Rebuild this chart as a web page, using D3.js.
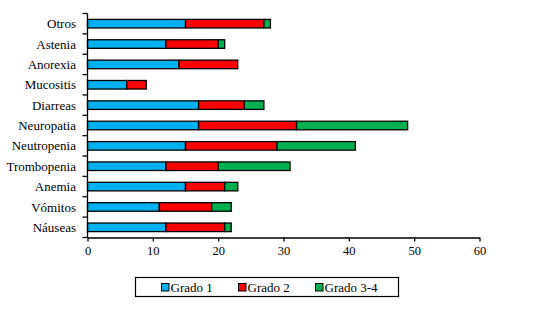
<!DOCTYPE html>
<html>
<head>
<meta charset="utf-8">
<script src="https://cdn.jsdelivr.net/npm/d3@7"></script>
<style>
  body { margin: 0; background: #fff; }
  svg text { font-family: "Liberation Serif", "Times New Roman", Times, serif; fill: #000; }
</style>
</head>
<body>
<div id="chart"></div>
<script>
// set the dimensions of the picture
const width = 554,
    height = 322;

// categories, top to bottom as drawn
const categories = ["Otros", "Astenia", "Anorexia", "Mucositis", "Diarreas", "Neuropatia",
  "Neutropenia", "Trombopenia", "Anemia", "Vómitos", "Náuseas"];
const grado1 = [15, 12, 14, 6, 17, 17, 15, 12, 15, 11, 12];
const grado2 = [12, 8, 9, 3, 7, 15, 14, 8, 6, 8, 9];
const grado34 = [1, 1, 0, 0, 3, 17, 12, 11, 2, 3, 1];
const seriesNames = ["Grado 1", "Grado 2", "Grado 3-4"];
const xTicks = [0, 10, 20, 30, 40, 50, 60];

const colors = ["#00b0f0", "#ff0000", "#00b050"];
const serif = '"Liberation Serif", "Times New Roman", Times, serif';

const plotLeft = 87.5, plotRight = 479.5, plotTop = 13.5, plotBottom = 237.5;

const svg = d3.select("#chart")
  .append("svg")
    .attr("width", width)
    .attr("height", height);

const x = d3.scaleLinear().domain([0, 60]).range([plotLeft, plotRight]);
const y = d3.scaleBand().domain(categories).range([plotTop, plotBottom]).paddingInner(0.58).paddingOuter(0.29);

// table for the stack
const table = categories.map((c, i) => ({cat: c, "Grado 1": grado1[i], "Grado 2": grado2[i], "Grado 3-4": grado34[i]}));
const stacked = d3.stack().keys(seriesNames)(table);

svg.append("g")
  .selectAll("g")
  .data(stacked)
  .join("g")
    .attr("fill", (d, i) => colors[i])
  .selectAll("rect")
  .data(d => d.filter(p => p[1] > p[0]))
  .join("rect")
    .attr("x", d => x(d[0]))
    .attr("y", d => y(d.data.cat))
    .attr("width", d => x(d[1]) - x(d[0]))
    .attr("height", y.bandwidth())
    .attr("stroke", "#000")
    .attr("stroke-width", 1.3);

// x axis
const xAxis = svg.append("g")
  .attr("transform", `translate(0, ${plotBottom})`)
  .call(d3.axisBottom(x).tickValues(xTicks).tickSize(4).tickPadding(5).tickSizeOuter(0));
xAxis.attr("font-family", null);
xAxis.select(".domain").attr("stroke", "#000").attr("stroke-width", 1.3);
xAxis.selectAll(".tick line").attr("stroke", "#000").attr("stroke-width", 1.3);
xAxis.selectAll("text").style("font-family", serif).style("font-size", "12.5px");

// y axis: ticks between categories
const yTickPos = d3.range(categories.length + 1).map(i => plotTop + i * (plotBottom - plotTop) / categories.length);
svg.append("line")
  .attr("x1", plotLeft).attr("x2", plotLeft)
  .attr("y1", plotTop).attr("y2", plotBottom)
  .attr("stroke", "#000").attr("stroke-width", 1.3);
svg.append("g")
  .selectAll("line")
  .data(yTickPos)
  .join("line")
    .attr("x1", plotLeft - 5).attr("x2", plotLeft)
    .attr("y1", d => d).attr("y2", d => d)
    .attr("stroke", "#000").attr("stroke-width", 1.3);
svg.append("g")
  .selectAll("text")
  .data(categories)
  .join("text")
    .attr("x", 76)
    .attr("y", d => y(d) + y.bandwidth() / 2)
    .attr("dy", "0.35em")
    .attr("text-anchor", "end")
    .style("font-family", serif)
    .style("font-size", "13px")
    .text(d => d);

// legend box
const legend = svg.append("g");
legend.append("rect")
  .attr("x", 135.5).attr("y", 277.5)
  .attr("width", 263).attr("height", 19)
  .attr("fill", "none").attr("stroke", "#000").attr("stroke-width", 1.2);

const legendX = [161.5, 238.5, 315.5];
legend.selectAll(".legendColors")
  .data(seriesNames)
  .join("rect")
    .attr("x", (d, i) => legendX[i])
    .attr("y", 283.5)
    .attr("width", 7.5)
    .attr("height", 7.5)
    .attr("fill", (d, i) => colors[i])
    .attr("stroke", "#000")
    .attr("stroke-width", 1);
legend.selectAll(".legendLabels")
  .data(seriesNames)
  .join("text")
    .attr("x", (d, i) => legendX[i] + 9)
    .attr("y", 287.5)
    .attr("dy", "0.35em")
    .style("font-family", serif)
    .style("font-size", "13px")
    .text(d => d);
</script>
</body>
</html>
